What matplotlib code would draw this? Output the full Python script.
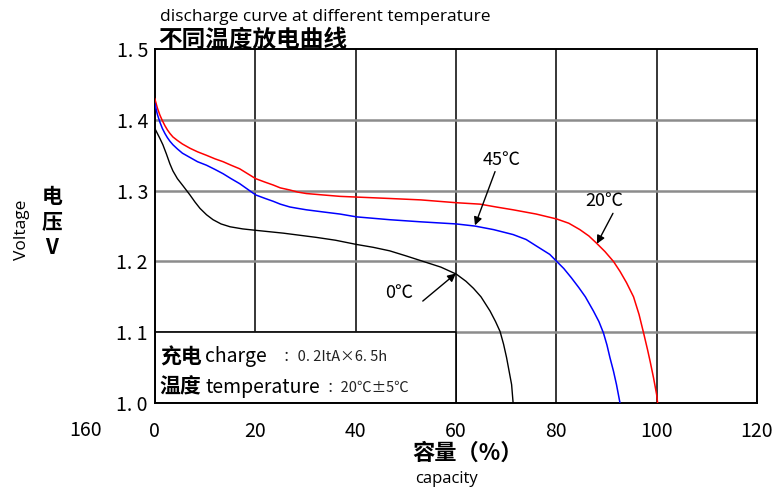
import matplotlib.pyplot as plt
from matplotlib.patches import Rectangle

plt.rcParams['font.family'] = ['Noto Sans CJK SC', 'DejaVu Sans']

# capacity (%) vs voltage (V)
cap_20 = [0, 0.5, 1, 1.5, 2, 2.5, 3, 3.6, 4.5, 5.5, 7, 8.5, 10.3, 12, 13.6, 15.2, 16.9, 18.5,
          20.1, 22, 23.6, 25, 26.9, 28.5, 30.2, 33.5, 36.9, 40.2, 46.8, 53, 60.1, 64.8, 68,
          71.4, 76, 80.1, 82.5, 84.7, 86.5, 88.0, 89.7, 91.4, 92.7, 94, 95.4, 96.5, 97.4, 98.2,
          98.7, 99.4, 100, 100.2]
volt_20 = [1.430, 1.417, 1.407, 1.399, 1.392, 1.386, 1.381, 1.376, 1.371, 1.366, 1.360, 1.355,
           1.350, 1.345, 1.341, 1.336, 1.331, 1.324, 1.317, 1.312, 1.308, 1.304, 1.301, 1.298,
           1.296, 1.294, 1.292, 1.291, 1.289, 1.287, 1.283, 1.281, 1.277, 1.273, 1.267, 1.260,
           1.254, 1.245, 1.236, 1.226, 1.214, 1.200, 1.186, 1.170, 1.150, 1.125, 1.099, 1.075,
           1.059, 1.035, 1.012, 1.0]

cap_45 = [0, 0.5, 1, 1.5, 2, 2.5, 3, 3.6, 4.5, 5.5, 7, 8.5, 10.3, 12, 13.6, 15.2, 16.9, 18.5,
          20.1, 22, 23.6, 25, 26.9, 28.5, 30.2, 33.5, 36.9, 40.2, 43.5, 46.8, 53, 60.1, 63.8,
          67.5, 71.4, 74, 76, 78.7, 80.1, 81.5, 83, 84.5, 85.8, 87.4, 88.5, 89.4, 90.1, 90.7,
          91.4, 92.0, 92.7]
volt_45 = [1.423, 1.408, 1.397, 1.388, 1.381, 1.375, 1.370, 1.365, 1.359, 1.353, 1.347, 1.341,
           1.336, 1.330, 1.324, 1.317, 1.310, 1.302, 1.294, 1.289, 1.285, 1.281, 1.277, 1.275,
           1.273, 1.270, 1.267, 1.263, 1.261, 1.259, 1.256, 1.253, 1.250, 1.245, 1.238, 1.231,
           1.222, 1.210, 1.200, 1.190, 1.177, 1.163, 1.150, 1.130, 1.115, 1.099, 1.082, 1.064,
           1.045, 1.026, 1.0]

cap_0 = [0, 0.5, 1, 1.6, 2.3, 3, 3.6, 4.5, 5.6, 7.0, 8, 9.0, 10.3, 11.6, 13.2, 15.0, 17.5,
         20.1, 25.6, 32.2, 36, 40.2, 43.5, 46.8, 50, 53.5, 57, 60.1, 62, 63.5, 65, 66.8, 67.9,
         68.8, 69.5, 70.1, 70.6, 71.1, 71.4]
volt_0 = [1.388, 1.381, 1.374, 1.365, 1.352, 1.338, 1.328, 1.317, 1.307, 1.294, 1.284, 1.275,
          1.266, 1.259, 1.253, 1.249, 1.246, 1.244, 1.240, 1.234, 1.230, 1.224, 1.220, 1.215,
          1.208, 1.200, 1.192, 1.182, 1.172, 1.162, 1.150, 1.130, 1.115, 1.101, 1.083, 1.064,
          1.045, 1.026, 1.0]

x_ticks = [0, 20, 40, 60, 80, 100, 120]
y_ticks = [1.0, 1.1, 1.2, 1.3, 1.4, 1.5]
y_labels = ['1. 0', '1. 1', '1. 2', '1. 3', '1. 4', '1. 5']

fig = plt.figure(figsize=(7.82, 4.92), dpi=100)
ax = fig.add_axes([0.198, 0.181, 0.770, 0.719])

ax.set_xlim(0, 120)
ax.set_ylim(1.0, 1.5)

# grid: vertical black, horizontal grey
for x in x_ticks[1:-1]:
    ax.axvline(x, color='black', lw=1.1, zorder=1)
for y in y_ticks[1:-1]:
    ax.axhline(y, color='#8c8c8c', lw=1.8, zorder=1)

ax.plot(cap_20, volt_20, color='red', lw=1.1, zorder=3)
ax.plot(cap_45, volt_45, color='blue', lw=1.1, zorder=3)
ax.plot(cap_0, volt_0, color='black', lw=1.0, zorder=3)

# white box with charge conditions
ax.add_patch(Rectangle((0, 1.0), 60, 0.1, facecolor='white', edgecolor='black', lw=1.2, zorder=2))

ax.text(1.0, 1.065, '充电', fontsize=15, fontweight='bold', va='center', zorder=4)
ax.text(10.0, 1.065, 'charge', fontsize=14, va='center', zorder=4)
ax.text(25.5, 1.065, '：0. 2ItA×6. 5h', fontsize=10.5, color='#222222', va='center', zorder=4)
ax.text(1.0, 1.022, '温度', fontsize=15, fontweight='bold', va='center', zorder=4)
ax.text(10.0, 1.022, 'temperature', fontsize=14, va='center', zorder=4)
ax.text(34.2, 1.022, '：20℃±5℃', fontsize=10.5, color='#222222', va='center', zorder=4)

# curve annotations
arrow = dict(arrowstyle='-|>', color='black', lw=1.0, mutation_scale=12, shrinkA=0, shrinkB=0)
ax.annotate('', xy=(63.8, 1.251), xytext=(67.8, 1.327), arrowprops=arrow, zorder=5)
ax.text(69.2, 1.344, '45℃', fontsize=13, ha='center', va='center')
ax.annotate('', xy=(88.1, 1.225), xytext=(91.3, 1.268), arrowprops=arrow, zorder=5)
ax.text(89.5, 1.286, '20℃', fontsize=13, ha='center', va='center')
ax.annotate('', xy=(60.0, 1.183), xytext=(53.4, 1.144), arrowprops=arrow, zorder=5)
ax.text(48.6, 1.156, '0℃', fontsize=13, ha='center', va='center')

ax.set_xticks(x_ticks)
ax.set_yticks(y_ticks)
ax.set_yticklabels(y_labels)
ax.tick_params(axis='both', length=0, labelsize=14)
ax.tick_params(axis='x', pad=13)
ax.tick_params(axis='y', pad=5)
for s in ax.spines.values():
    s.set_linewidth(1.4)

# titles and axis labels
fig.text(160 / 782, 1 - 17 / 492, 'discharge curve at different temperature', fontsize=12.5,
         family='Open Sans', va='center')
fig.text(158 / 782, 1 - 40 / 492, '不同温度放电曲线', fontsize=17, fontweight='bold', va='center')
fig.text(22 / 782, 1 - 230 / 492, 'Voltage', fontsize=12.5, family='Open Sans', rotation=90,
         ha='center', va='center')
fig.text(52 / 782, 1 - 222 / 492, '电\n压\nV', fontsize=15, fontweight='bold', ha='center',
         va='center', linespacing=1.25)
fig.text(86 / 782, 1 - 430 / 492, '160', fontsize=14, ha='center', va='center')
fig.text(468 / 782, 1 - 453 / 492, '容量（%）', fontsize=16, fontweight='bold', ha='center',
         va='center')
fig.text(447 / 782, 1 - 479 / 492, 'capacity', fontsize=12, family='Open Sans', ha='center',
         va='center')

fig.savefig('out.png', dpi=100)
